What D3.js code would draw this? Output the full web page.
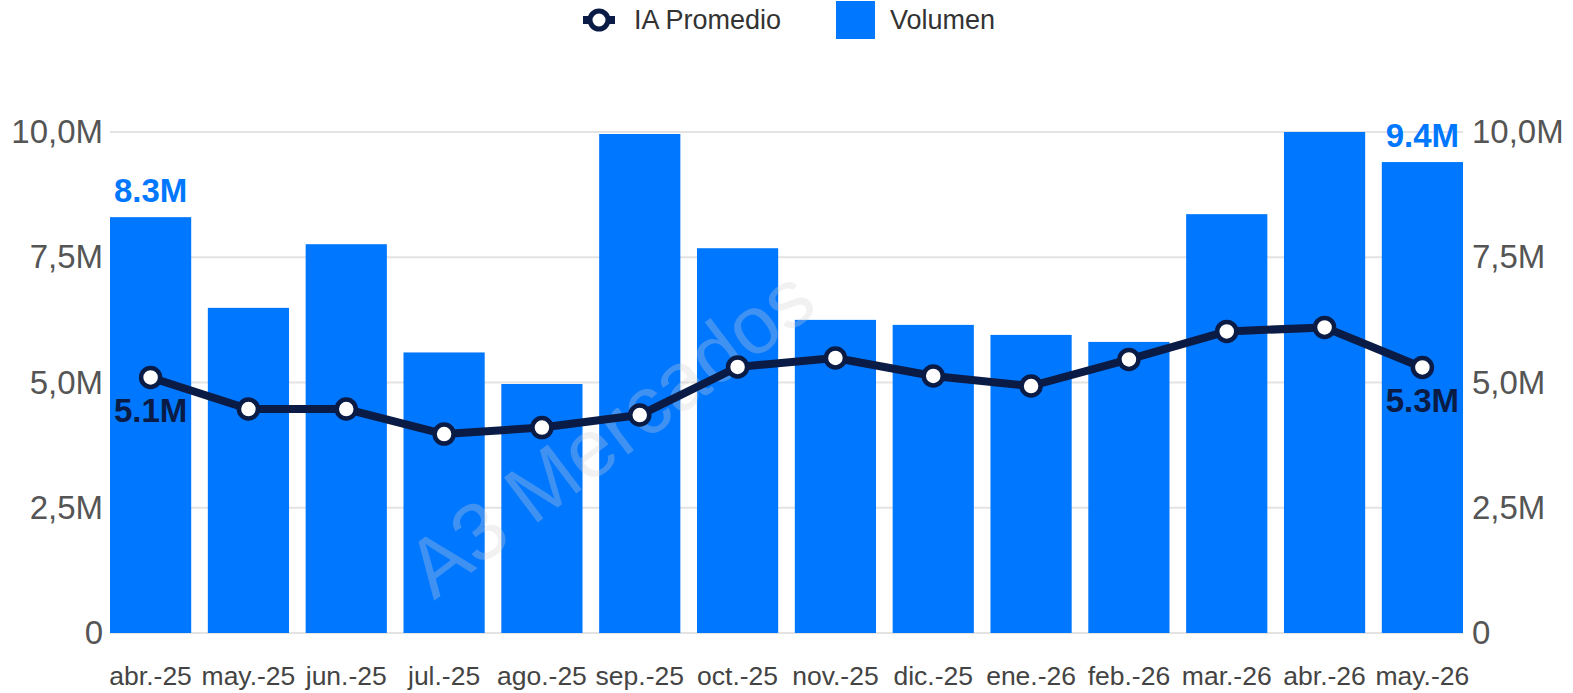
<!DOCTYPE html>
<html>
<head>
<meta charset="utf-8">
<script src="https://cdn.jsdelivr.net/npm/d3@7"></script>
<style>
  body { margin: 0; background: #fff; }
  text { font-family: "Liberation Sans", Arial, sans-serif; }
</style>
</head>
<body>
<div id="chart"></div>
<script>
// data (millions)
const months = ["abr.-25","may.-25","jun.-25","jul.-25","ago.-25","sep.-25","oct.-25",
                "nov.-25","dic.-25","ene.-26","feb.-26","mar.-26","abr.-26","may.-26"];
const volumen = [8.3, 6.49, 7.76, 5.6, 4.97, 9.96, 7.68, 6.25, 6.15, 5.95, 5.81, 8.36, 10.0, 9.4];
const iaPromedio = [5.1, 4.47, 4.47, 3.97, 4.1, 4.35, 5.31, 5.49, 5.13, 4.93, 5.46, 6.02, 6.1, 5.3];
const yTicks = [0, 2.5, 5, 7.5, 10];
const yTickLabels = ["0", "2,5M", "5,0M", "7,5M", "10,0M"];

const width = 1573, height = 693;
const margin = {top: 132, right: 110, bottom: 60, left: 110};

const barColor = "#0077ff";
const lineColor = "#0a1b45";

const svg = d3.select("#chart")
  .append("svg")
  .attr("width", width)
  .attr("height", height);

// scales
const x = d3.scaleBand()
  .domain(months)
  .range([margin.left, 1463])
  .paddingInner(0.17)
  .paddingOuter(0);

const y = d3.scaleLinear()
  .domain([0, 10])
  .range([633, 132]);

// gridlines
svg.append("g")
  .selectAll("line")
  .data(yTicks)
  .enter()
  .append("line")
  .attr("x1", margin.left)
  .attr("x2", 1463)
  .attr("y1", d => y(d))
  .attr("y2", d => y(d))
  .attr("stroke", "#e3e3e3")
  .attr("stroke-width", 2);

// bars
svg.append("g")
  .selectAll("rect")
  .data(volumen)
  .enter()
  .append("rect")
  .attr("x", (d, i) => x(months[i]))
  .attr("y", d => y(d))
  .attr("width", x.bandwidth())
  .attr("height", d => y(0) - y(d))
  .attr("fill", barColor);

// watermark
svg.append("text")
  .attr("transform", "translate(614,438) rotate(-37)")
  .attr("text-anchor", "middle")
  .attr("dominant-baseline", "middle")
  .attr("font-size", 82)
  .attr("fill", "#d0d0d0")
  .attr("fill-opacity", 0.3)
  .text("A3 Mercados");

// left and right axis labels
const yAxisL = d3.axisLeft(y).tickValues(yTicks).tickSize(0).tickPadding(7)
  .tickFormat((d, i) => yTickLabels[i]);
const yAxisR = d3.axisRight(y).tickValues(yTicks).tickSize(0).tickPadding(9)
  .tickFormat((d, i) => yTickLabels[i]);

const gl = svg.append("g").attr("transform", `translate(${margin.left},0)`).call(yAxisL);
const gr = svg.append("g").attr("transform", "translate(1463,0)").call(yAxisR);
[gl, gr].forEach(g => {
  g.select(".domain").remove();
  g.selectAll("text")
    .attr("font-size", 33)
    .attr("fill", "#555")
    .attr("font-family", "'Liberation Sans', Arial, sans-serif");
});

// x axis labels
const xAxis = d3.axisBottom(x).tickSize(0).tickPadding(33);
const gx = svg.append("g").attr("transform", `translate(0,${y(0)})`).call(xAxis);
gx.select(".domain").remove();
gx.selectAll("text")
  .attr("font-size", 26.5)
  .attr("fill", "#444")
  .attr("font-family", "'Liberation Sans', Arial, sans-serif");

// line
const line = d3.line()
  .x((d, i) => x(months[i]) + x.bandwidth() / 2)
  .y(d => y(d));

svg.append("path")
  .datum(iaPromedio)
  .attr("d", line)
  .attr("fill", "none")
  .attr("stroke", lineColor)
  .attr("stroke-width", 8)
  .attr("stroke-linejoin", "round");

svg.append("g")
  .selectAll("circle")
  .data(iaPromedio)
  .enter()
  .append("circle")
  .attr("cx", (d, i) => x(months[i]) + x.bandwidth() / 2)
  .attr("cy", d => y(d))
  .attr("r", 9.5)
  .attr("fill", "#fff")
  .attr("stroke", lineColor)
  .attr("stroke-width", 4.5);

// first / last value labels
const last = months.length - 1;
[0, last].forEach(i => {
  const cx = x(months[i]) + x.bandwidth() / 2;
  svg.append("text")
    .attr("x", cx)
    .attr("y", y(volumen[i]) - 15)
    .attr("text-anchor", "middle")
    .attr("font-size", 33)
    .attr("font-weight", "bold")
    .attr("fill", barColor)
    .text(volumen[i].toFixed(1) + "M");
  svg.append("text")
    .attr("x", cx)
    .attr("y", y(iaPromedio[i]) + 45)
    .attr("text-anchor", "middle")
    .attr("font-size", 33)
    .attr("font-weight", "bold")
    .attr("fill", lineColor)
    .text(iaPromedio[i].toFixed(1) + "M");
});

// legend
const legend = svg.append("g");
legend.append("line")
  .attr("x1", 583).attr("x2", 615)
  .attr("y1", 20).attr("y2", 20)
  .attr("stroke", lineColor)
  .attr("stroke-width", 8);
legend.append("circle")
  .attr("cx", 599).attr("cy", 20).attr("r", 9)
  .attr("fill", "#fff")
  .attr("stroke", lineColor)
  .attr("stroke-width", 5);
legend.append("text")
  .attr("x", 634).attr("y", 29)
  .attr("font-size", 27)
  .attr("fill", "#333")
  .text("IA Promedio");
legend.append("rect")
  .attr("x", 836).attr("y", 1)
  .attr("width", 39).attr("height", 38)
  .attr("fill", barColor);
legend.append("text")
  .attr("x", 890).attr("y", 29)
  .attr("font-size", 27)
  .attr("fill", "#333")
  .text("Volumen");
</script>
</body>
</html>
